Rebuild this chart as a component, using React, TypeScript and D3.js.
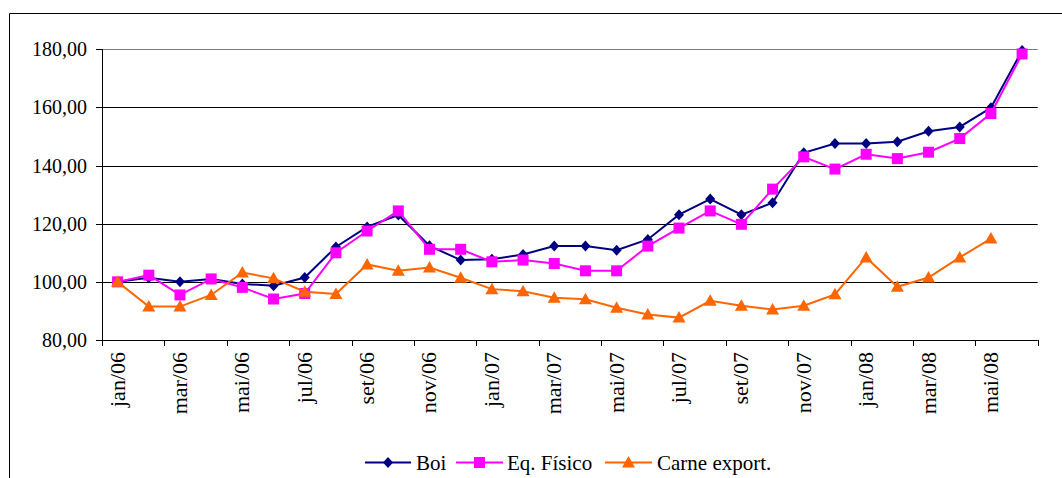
import React from "react";
import * as d3 from "d3";

const months = [
  "jan/06", "fev/06", "mar/06", "abr/06", "mai/06", "jun/06", "jul/06", "ago/06", "set/06", "out/06",
  "nov/06", "dez/06", "jan/07", "fev/07", "mar/07", "abr/07", "mai/07", "jun/07", "jul/07", "ago/07",
  "set/07", "out/07", "nov/07", "dez/07", "jan/08", "fev/08", "mar/08", "abr/08", "mai/08", "jun/08",
];

const boi = [
  100, 101.4, 100, 101, 99.3, 98.7, 101.5, 112, 118.9, 123,
  112.4, 107.5, 107.8, 109.4, 112.3, 112.3, 110.9, 114.6, 123.1, 128.5,
  123.1, 127.2, 144.4, 147.6, 147.6, 148.2, 151.8, 153.3, 159.9, 179.6,
];

const eqFisico = [
  100, 102.3, 95.5, 101, 98.1, 94.1, 96, 110, 117.5, 124.4,
  111.2, 111.2, 106.9, 107.5, 106.3, 103.8, 103.8, 112.3, 118.5, 124.4,
  119.8, 131.9, 143, 138.8, 143.9, 142.4, 144.6, 149.3, 157.9, 178.4,
];

const carne = [
  100, 91.5, 91.5, 95.5, 103.2, 101.2, 96.6, 95.8, 106, 103.8,
  104.9, 101.4, 97.5, 96.8, 94.5, 94, 91.1, 88.8, 87.7, 93.5,
  91.8, 90.5, 91.8, 95.7, 108.4, 98.3, 101.5, 108.4, 114.9, null,
];

const yTicks = [80, 100, 120, 140, 160, 180];

const FONT = '"Liberation Serif"';

const diamond = (cx: number, cy: number) =>
  `M${cx},${cy - 5.5}L${cx + 5},${cy}L${cx},${cy + 5.5}L${cx - 5},${cy}Z`;
const square = (cx: number, cy: number) =>
  `M${cx - 5.5},${cy - 5.5}h11v11h-11Z`;
const triangle = (cx: number, cy: number) =>
  `M${cx},${cy - 6.5}L${cx + 6.5},${cy + 5}L${cx - 6.5},${cy + 5}Z`;

export default function App() {
  const width = 1062;
  const height = 478;

  const x = d3.scaleBand().domain(months).range([102, 1037.7]);
  const y = d3.scaleLinear().domain([80, 180]).range([340, 49.3]);
  const bw = x.bandwidth();
  const cx = (i: number) => (x(months[i]) as number) + bw / 2;

  const line = d3
    .line<number | null>()
    .defined((d) => d != null)
    .x((_, i) => cx(i))
    .y((d) => y(d as number));

  const series = [
    { name: "Boi", data: boi, color: "#000080", marker: diamond },
    { name: "Eq. Físico", data: eqFisico, color: "#FF00FF", marker: square },
    { name: "Carne export.", data: carne, color: "#FF6600", marker: triangle },
  ];

  const legend = [
    { x0: 365, x1: 411, tx: 416 },
    { x0: 456, x1: 503, tx: 507 },
    { x0: 605, x1: 652, tx: 657 },
  ];

  const tickIdx = months.map((_, i) => i).filter((i) => i % 2 === 0);

  return (
    <svg width={width} height={height} style={{ position: "absolute", left: 0, top: 0, background: "#fff" }}>
      <rect x={0} y={0} width={width} height={height} fill="#fff" />
      {/* outer frame */}
      <line x1={9.5} y1={13.5} x2={width} y2={13.5} stroke="#000" />
      <line x1={9.5} y1={13.5} x2={9.5} y2={height} stroke="#000" />

      {/* gridlines */}
      {yTicks.slice(1).map((t) => (
        <line
          key={t}
          x1={102}
          x2={1037.7}
          y1={Math.round(y(t)) + 0.5}
          y2={Math.round(y(t)) + 0.5}
          stroke={t === 180 ? "#7a7a7a" : "#000"}
        />
      ))}

      {/* y axis */}
      <line x1={102.5} x2={102.5} y1={49} y2={340} stroke="#000" />
      {yTicks.map((t) => (
        <g key={t}>
          <line x1={96} x2={102} y1={Math.round(y(t)) + 0.5} y2={Math.round(y(t)) + 0.5} stroke="#000" />
          <text x={87} y={y(t)} dy="0.35em" textAnchor="end" style={{ fontFamily: FONT, fontSize: 20 }} fill="#000">
            {d3.format(".2f")(t).replace(".", ",")}
          </text>
        </g>
      ))}

      {/* x axis */}
      <line x1={102} x2={1037.7} y1={340.5} y2={340.5} stroke="#000" />
      {[...tickIdx, months.length].map((i) => {
        const tx = Math.round(i < months.length ? (x(months[i]) as number) : 1037.7) + 0.5;
        return <line key={i} x1={tx} x2={tx} y1={340} y2={346} stroke="#000" />;
      })}
      {tickIdx.map((i) => (
        <text
          key={i}
          transform={`translate(${cx(i) + 7},352) rotate(-90)`}
          textAnchor="end"
          style={{ fontFamily: FONT, fontSize: 22 }}
          fill="#000"
        >
          {months[i]}
        </text>
      ))}

      {/* series */}
      {series.map((s) => (
        <g key={s.name}>
          <path d={line(s.data) || ""} fill="none" stroke={s.color} strokeWidth={2} />
          {s.data.map((d, i) =>
            d == null ? null : <path key={i} d={s.marker(cx(i), y(d))} fill={s.color} />
          )}
        </g>
      ))}

      {/* legend */}
      {series.map((s, k) => {
        const l = legend[k];
        const ly = 462.5;
        return (
          <g key={s.name}>
            <line x1={l.x0} x2={l.x1} y1={ly} y2={ly} stroke={s.color} strokeWidth={2} />
            <path d={s.marker((l.x0 + l.x1) / 2, ly)} fill={s.color} />
            <text x={l.tx} y={ly} dy="0.35em" style={{ fontFamily: FONT, fontSize: 21 }} fill="#000">
              {s.name}
            </text>
          </g>
        );
      })}
    </svg>
  );
}
